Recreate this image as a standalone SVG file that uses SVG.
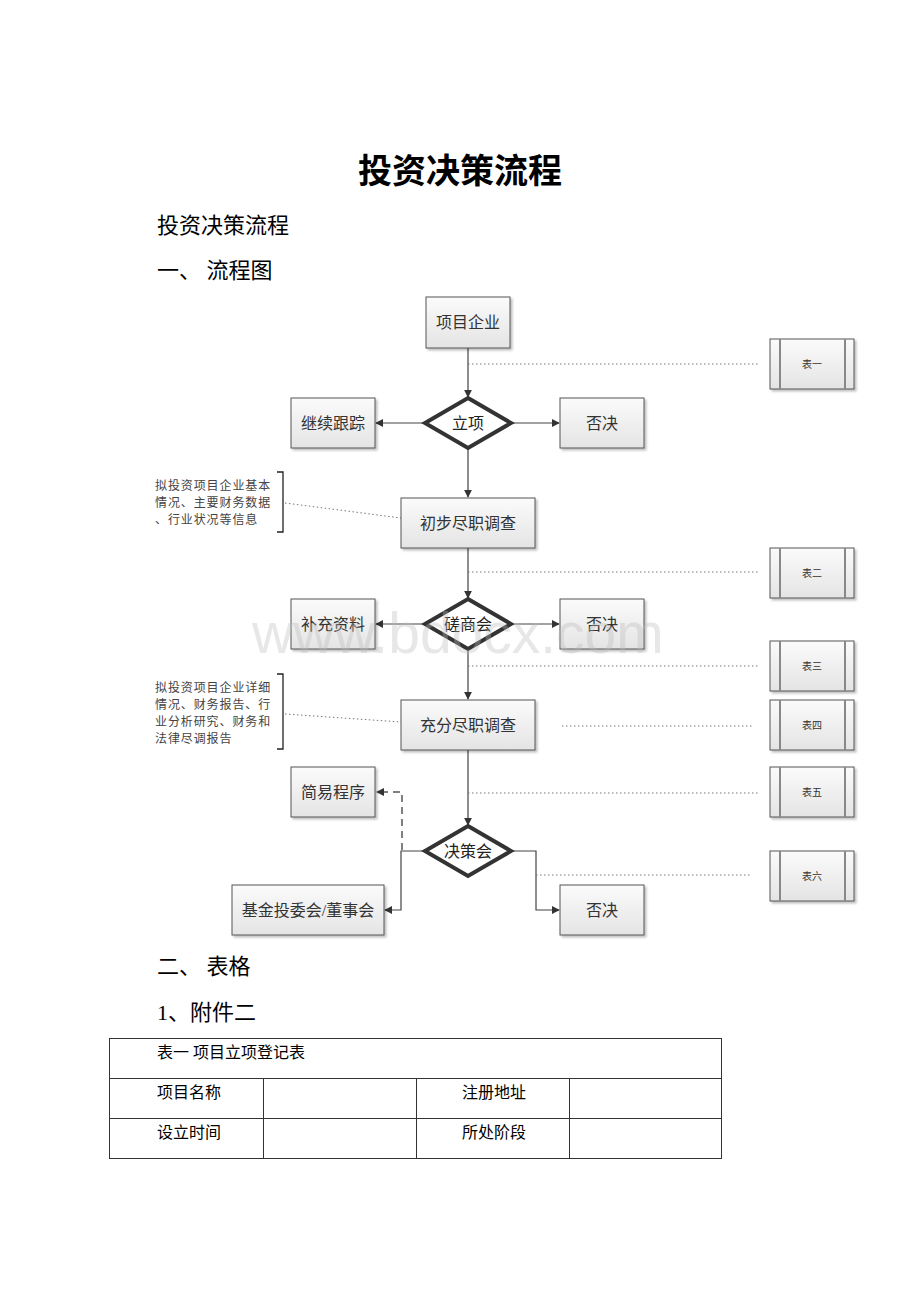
<svg xmlns="http://www.w3.org/2000/svg" width="920" height="1302" viewBox="0 0 920 1302">
<defs>
<linearGradient id="g" x1="0" y1="0" x2="0" y2="1">
<stop offset="0" stop-color="#fbfbfb"/>
<stop offset="1" stop-color="#e4e4e4"/>
</linearGradient>
<filter id="sh" x="-10%" y="-10%" width="130%" height="130%">
<feDropShadow dx="2" dy="2" stdDeviation="1.2" flood-color="#000" flood-opacity="0.25"/>
</filter>
<marker id="ah" viewBox="0 0 10 10" refX="9" refY="5" markerWidth="8" markerHeight="8" markerUnits="userSpaceOnUse" orient="auto">
<path d="M0,0 L10,5 L0,10 z" fill="#333"/>
</marker>
<style>
.doc{font-family:"Liberation Serif","Noto Sans CJK SC",serif;fill:#000}
.box{fill:url(#g);stroke:#555;stroke-width:1;filter:url(#sh)}
.lbl{font-family:"Liberation Serif","Noto Sans CJK SC",serif;font-size:16px;fill:#333;text-anchor:middle}
.dia{fill:#fff;stroke:#333;stroke-width:4;stroke-linejoin:miter}
.dlbl{font-family:"Liberation Serif","Noto Sans CJK SC",serif;font-size:16px;fill:#222;text-anchor:middle}
.tb{fill:url(#g);stroke:#555;stroke-width:1;filter:url(#sh)}
.tbi{stroke:#888;stroke-width:2}
.tlbl{font-family:"Liberation Serif","Noto Sans CJK SC",serif;font-size:10px;fill:#333;text-anchor:middle}
.note{font-family:"Liberation Serif","Noto Sans CJK SC",serif;font-size:12px;fill:#444;letter-spacing:0.9px}
.ln{stroke:#444;stroke-width:1.2;fill:none}
.dot{stroke:#777;stroke-width:1;stroke-dasharray:1.5 2.5;fill:none}
.dash{stroke:#555;stroke-width:1.5;stroke-dasharray:7 5;fill:none}
.brk{stroke:#222;stroke-width:1.3;fill:none}
.cell{stroke:#333;stroke-width:1;fill:none}
.ctxt{font-family:"Liberation Serif","Noto Sans CJK SC",serif;font-size:16px;fill:#000}
</style>
</defs>
<rect width="920" height="1302" fill="#fff"/>

<g id="heading">
<text class="doc" x="460" y="183" font-size="34" font-weight="bold" text-anchor="middle">投资决策流程</text>
<text class="doc" x="157" y="233" font-size="22">投资决策流程</text>
<text class="doc" x="157" y="278" font-size="22">一、 流程图</text>
</g>

<g id="connectors">
<line class="ln" x1="468" y1="348" x2="468" y2="397" marker-end="url(#ah)"/>
<line class="ln" x1="425" y1="423" x2="376" y2="423" marker-end="url(#ah)"/>
<line class="ln" x1="511" y1="423" x2="559" y2="423" marker-end="url(#ah)"/>
<line class="ln" x1="468" y1="448" x2="468" y2="497" marker-end="url(#ah)"/>
<line class="ln" x1="468" y1="548" x2="468" y2="598" marker-end="url(#ah)"/>
<line class="ln" x1="425" y1="624" x2="376" y2="624" marker-end="url(#ah)"/>
<line class="ln" x1="511" y1="624" x2="559" y2="624" marker-end="url(#ah)"/>
<line class="ln" x1="468" y1="649" x2="468" y2="699" marker-end="url(#ah)"/>
<line class="ln" x1="468" y1="750" x2="468" y2="825" marker-end="url(#ah)"/>
<polyline class="ln" points="425,851 401,851 401,910 385,910" marker-end="url(#ah)"/>
<polyline class="ln" points="511,851 536,851 536,910 559,910" marker-end="url(#ah)"/>
<polyline class="dash" points="402,850 402,792 377,792"/>
<path d="M376,792 L384,788 L384,796 z" fill="#333"/>
<line class="dot" x1="468" y1="364" x2="760" y2="364"/>
<line class="dot" x1="468" y1="572" x2="760" y2="572"/>
<line class="dot" x1="468" y1="666" x2="760" y2="666"/>
<line class="dot" x1="562" y1="726" x2="752" y2="726"/>
<line class="dot" x1="468" y1="793" x2="760" y2="793"/>
<line class="dot" x1="536" y1="875" x2="750" y2="875"/>
<line class="dot" x1="285" y1="503" x2="401" y2="518"/>
<line class="dot" x1="285" y1="714" x2="401" y2="722"/>
</g>

<g id="n-xmqy"><rect class="box" x="426" y="297" width="84" height="51"/><text class="lbl" x="468" y="328">项目企业</text></g>
<g id="n-lx"><polygon class="dia" points="468,398 511,423 468,448 425,423"/><text class="dlbl" x="468" y="429">立项</text></g>
<g id="n-jxgz"><rect class="box" x="291" y="398" width="84" height="50"/><text class="lbl" x="333" y="429">继续跟踪</text></g>
<g id="n-fj1"><rect class="box" x="560" y="398" width="84" height="50"/><text class="lbl" x="602" y="429">否决</text></g>
<g id="n-cbjd"><rect class="box" x="401" y="498" width="134" height="50"/><text class="lbl" x="468" y="529">初步尽职调查</text></g>
<g id="n-note1">
<path class="brk" d="M277,472 L283,472 L283,532 L277,532"/>
<text class="note" x="155" y="490">拟投资项目企业基本</text>
<text class="note" x="155" y="507">情况、主要财务数据</text>
<text class="note" x="155" y="524">、行业状况等信息</text>
</g>
<g id="n-csh"><polygon class="dia" points="468,599 511,624 468,649 425,624"/><text class="dlbl" x="468" y="630">磋商会</text></g>
<g id="n-bczl"><rect class="box" x="291" y="599" width="84" height="50"/><text class="lbl" x="333" y="630">补充资料</text></g>
<g id="n-fj2"><rect class="box" x="560" y="599" width="84" height="50"/><text class="lbl" x="602" y="630">否决</text></g>
<g id="n-cfjd"><rect class="box" x="401" y="700" width="134" height="50"/><text class="lbl" x="468" y="731">充分尽职调查</text></g>
<g id="n-note2">
<path class="brk" d="M277,674 L283,674 L283,749 L277,749"/>
<text class="note" x="155" y="692">拟投资项目企业详细</text>
<text class="note" x="155" y="709">情况、财务报告、行</text>
<text class="note" x="155" y="726">业分析研究、财务和</text>
<text class="note" x="155" y="743">法律尽调报告</text>
</g>
<g id="n-jycx"><rect class="box" x="291" y="767" width="84" height="50"/><text class="lbl" x="333" y="798">简易程序</text></g>
<g id="n-jch"><polygon class="dia" points="468,826 511,851 468,876 425,851"/><text class="dlbl" x="468" y="857">决策会</text></g>
<g id="n-jjtwh"><rect class="box" x="232" y="885" width="152" height="50"/><text class="lbl" x="308" y="916">基金投委会/董事会</text></g>
<g id="n-fj3"><rect class="box" x="560" y="885" width="84" height="50"/><text class="lbl" x="602" y="916">否决</text></g>

<g id="t1"><rect class="tb" x="770" y="339" width="84" height="50"/><line class="tbi" x1="780" y1="339" x2="780" y2="389"/><line class="tbi" x1="845" y1="339" x2="845" y2="389"/><text class="tlbl" x="812" y="368">表一</text></g>
<g id="t2"><rect class="tb" x="770" y="548" width="84" height="50"/><line class="tbi" x1="780" y1="548" x2="780" y2="598"/><line class="tbi" x1="845" y1="548" x2="845" y2="598"/><text class="tlbl" x="812" y="577">表二</text></g>
<g id="t3"><rect class="tb" x="770" y="641" width="84" height="50"/><line class="tbi" x1="780" y1="641" x2="780" y2="691"/><line class="tbi" x1="845" y1="641" x2="845" y2="691"/><text class="tlbl" x="812" y="670">表三</text></g>
<g id="t4"><rect class="tb" x="770" y="700" width="84" height="50"/><line class="tbi" x1="780" y1="700" x2="780" y2="750"/><line class="tbi" x1="845" y1="700" x2="845" y2="750"/><text class="tlbl" x="812" y="729">表四</text></g>
<g id="t5"><rect class="tb" x="770" y="767" width="84" height="50"/><line class="tbi" x1="780" y1="767" x2="780" y2="817"/><line class="tbi" x1="845" y1="767" x2="845" y2="817"/><text class="tlbl" x="812" y="796">表五</text></g>
<g id="t6"><rect class="tb" x="770" y="851" width="84" height="50"/><line class="tbi" x1="780" y1="851" x2="780" y2="901"/><line class="tbi" x1="845" y1="851" x2="845" y2="901"/><text class="tlbl" x="812" y="880">表六</text></g>

<g id="watermark">
<text x="252" y="653" font-family="Liberation Sans, Arial, sans-serif" font-size="57" fill="#bbb" fill-opacity="0.35">www.bdocx.com</text>
</g>

<g id="section2">
<text class="doc" x="157" y="974" font-size="22">二、 表格</text>
<text class="doc" x="157" y="1020" font-size="22">1、附件二</text>
</g>

<g id="table">
<rect class="cell" x="109.5" y="1038.5" width="612" height="120"/>
<line class="cell" x1="109.5" y1="1078.5" x2="721.5" y2="1078.5"/>
<line class="cell" x1="109.5" y1="1118.5" x2="721.5" y2="1118.5"/>
<line class="cell" x1="263.5" y1="1078.5" x2="263.5" y2="1158.5"/>
<line class="cell" x1="416.5" y1="1078.5" x2="416.5" y2="1158.5"/>
<line class="cell" x1="569.5" y1="1078.5" x2="569.5" y2="1158.5"/>
<text class="ctxt" x="157" y="1058">表一 项目立项登记表</text>
<text class="ctxt" x="157" y="1098">项目名称</text>
<text class="ctxt" x="462" y="1098">注册地址</text>
<text class="ctxt" x="157" y="1138">设立时间</text>
<text class="ctxt" x="462" y="1138">所处阶段</text>
</g>
</svg>
